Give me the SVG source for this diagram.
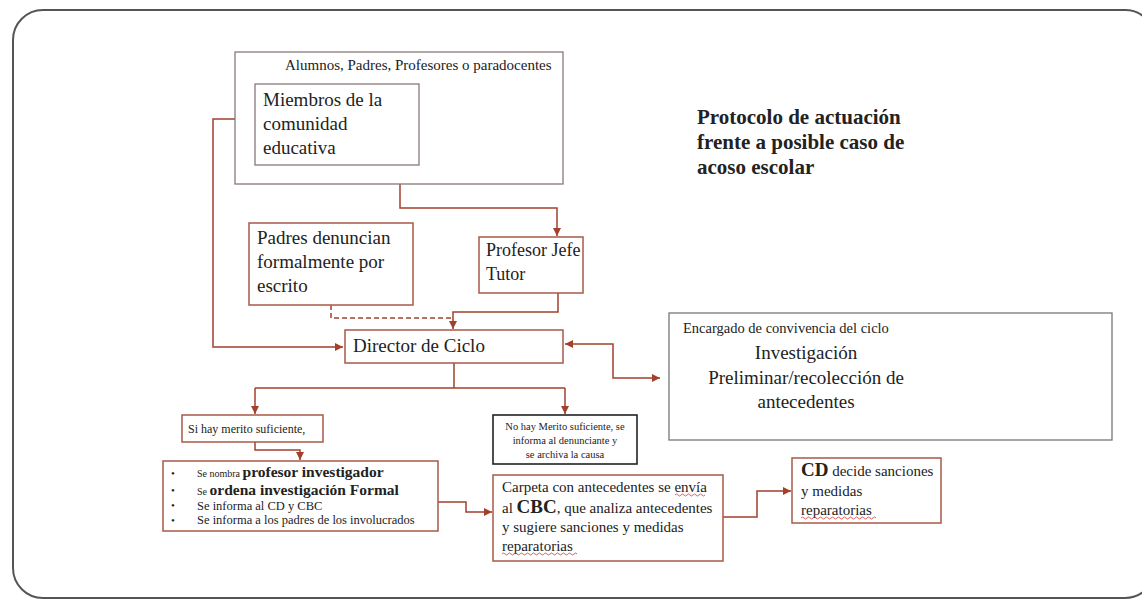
<svg xmlns="http://www.w3.org/2000/svg" width="1142" height="599" viewBox="0 0 1142 599">
<defs>
<style>
.t{font-family:"Liberation Serif","Times New Roman",serif;fill:#222}
.b{font-weight:bold}
.box{fill:#fff;stroke:#a85a47;stroke-width:1.5}
.gbox{fill:#fff;stroke:#8a7777;stroke-width:1.3}
.kbox{fill:#fff;stroke:#222;stroke-width:1.6}
.c{fill:none;stroke:#a3402c;stroke-width:1.5}
.dash{stroke-dasharray:5 3}
.wave{fill:none;stroke:#d23a3a;stroke-width:0.8}
</style>
<marker id="ah" viewBox="0 0 8 8" refX="8" refY="4" markerWidth="8" markerHeight="8" markerUnits="userSpaceOnUse" orient="auto-start-reverse">
<path d="M0,0 L8,4 L0,8 z" fill="#a3402c"/>
</marker>
</defs>
<rect x="0" y="0" width="1142" height="599" fill="#fff"/>
<rect x="13" y="10" width="1142" height="588" rx="30" fill="none" stroke="#555" stroke-width="2"/>

<g id="connectors">
<path class="c" d="M235,119 H213 V347 H343" marker-end="url(#ah)"/>
<path class="c" d="M400,184 V208 H557 V236" marker-end="url(#ah)"/>
<path class="c dash" d="M331,305 V318 H453"/>
<path class="c" d="M558,293 V312 H453 V329" marker-end="url(#ah)"/>
<path class="c" d="M565,344 H613 V378 H660" marker-start="url(#ah)" marker-end="url(#ah)"/>
<path class="c" d="M454,363 V388"/>
<path class="c" d="M255,388 V414" marker-end="url(#ah)"/>
<path class="c" d="M565,388 V414" marker-end="url(#ah)"/>
<path class="c" d="M255,388 H565"/>
<path class="c" d="M255,442 V450 H300 V460" marker-end="url(#ah)"/>
<path class="c" d="M438,502 H466 V512 H492" marker-end="url(#ah)"/>
<path class="c" d="M723,517 H757 V491 H791" marker-end="url(#ah)"/>
</g>

<g id="title">
<text class="t b" x="697" y="124" font-size="21">Protocolo de actuación</text>
<text class="t b" x="697" y="149" font-size="21">frente a posible caso de</text>
<text class="t b" x="697" y="174" font-size="21">acoso escolar</text>
</g>

<g id="n-alumnos">
<rect class="gbox" x="235" y="52" width="328" height="132"/>
<text class="t" x="285" y="70" font-size="15">Alumnos, Padres, Profesores o paradocentes</text>
</g>

<g id="n-miembros">
<rect class="gbox" x="255" y="84" width="164" height="81"/>
<text class="t" x="263" y="106" font-size="19">Miembros de la</text>
<text class="t" x="263" y="130" font-size="19">comunidad</text>
<text class="t" x="263" y="154" font-size="19">educativa</text>
</g>

<g id="n-padres">
<rect class="box" x="249" y="223" width="164" height="82"/>
<text class="t" x="257" y="244" font-size="19">Padres denuncian</text>
<text class="t" x="257" y="268" font-size="19">formalmente por</text>
<text class="t" x="257" y="292" font-size="19">escrito</text>
</g>

<g id="n-profesor">
<rect class="box" x="479" y="237" width="104" height="56"/>
<text class="t" x="486" y="256" font-size="18">Profesor Jefe</text>
<text class="t" x="486" y="280" font-size="18">Tutor</text>
</g>

<g id="n-director">
<rect class="box" x="345" y="330" width="218" height="33"/>
<text class="t" x="353" y="352" font-size="19">Director de Ciclo</text>
</g>

<g id="n-encargado">
<rect class="gbox" x="669" y="313" width="443" height="127" style="stroke:#777"/>
<text class="t" x="683" y="333" font-size="14.5">Encargado de convivencia del ciclo</text>
<text class="t" x="806" y="359" font-size="19" text-anchor="middle">Investigación</text>
<text class="t" x="806" y="384" font-size="19" text-anchor="middle">Preliminar/recolección de</text>
<text class="t" x="806" y="408" font-size="19" text-anchor="middle">antecedentes</text>
</g>

<g id="n-sihay">
<rect class="box" x="182" y="415" width="141" height="27"/>
<text class="t" x="188" y="433" font-size="12">Si hay merito suficiente,</text>
</g>

<g id="n-nohay">
<rect class="kbox" x="493" y="415" width="144" height="49"/>
<text class="t" x="565" y="430" font-size="10.5" text-anchor="middle">No hay Merito suficiente, se</text>
<text class="t" x="565" y="444" font-size="10.5" text-anchor="middle">informa al denunciante y</text>
<text class="t" x="565" y="458" font-size="10.5" text-anchor="middle">se archiva la causa</text>
</g>

<g id="n-lista">
<rect class="box" x="163" y="461" width="275" height="70"/>
<g class="t" font-size="11">
<text x="171" y="477">•</text>
<text x="171" y="494">•</text>
<text x="171" y="509">•</text>
<text x="171" y="524">•</text>
</g>
<text class="t" x="197" y="477" font-size="10">Se nombra <tspan class="b" font-size="15.5">profesor investigador</tspan></text>
<text class="t" x="197" y="494.5" font-size="10">Se <tspan class="b" font-size="15.5">ordena investigación Formal</tspan></text>
<text class="t" x="197" y="509.5" font-size="12.5">Se informa al CD y CBC</text>
<text class="t" x="197" y="524" font-size="12.5">Se informa a los padres de los involucrados</text>
</g>

<g id="n-carpeta">
<rect class="box" x="493" y="475" width="230" height="86"/>
<text class="t" x="502" y="492" font-size="15">Carpeta con antecedentes se envía</text>
<text class="t" x="502" y="513" font-size="15">al <tspan class="b" font-size="19">CBC</tspan>, que analiza antecedentes</text>
<text class="t" x="502" y="532" font-size="15">y sugiere sanciones y medidas</text>
<text class="t" x="502" y="551" font-size="15">reparatorias</text>
<path class="wave" d="M675,495 q1.5,-2 3,0 t3,0 t3,0 t3,0 t3,0 t3,0 t3,0 t3,0 t3,0 t3,0"/>
<path class="wave" d="M502,554 q1.5,-2 3,0 t3,0 t3,0 t3,0 t3,0 t3,0 t3,0 t3,0 t3,0 t3,0 t3,0 t3,0 t3,0 t3,0 t3,0 t3,0 t3,0 t3,0 t3,0 t3,0 t3,0 t3,0 t3,0 t3,0 t3,0"/>
</g>

<g id="n-cd">
<rect class="box" x="792" y="458" width="149" height="65"/>
<text class="t" x="801" y="476" font-size="15"><tspan class="b" font-size="19">CD</tspan> decide sanciones</text>
<text class="t" x="801" y="496" font-size="15">y medidas</text>
<text class="t" x="801" y="515" font-size="15">reparatorias</text>
<path class="wave" d="M801,518 q1.5,-2 3,0 t3,0 t3,0 t3,0 t3,0 t3,0 t3,0 t3,0 t3,0 t3,0 t3,0 t3,0 t3,0 t3,0 t3,0 t3,0 t3,0 t3,0 t3,0 t3,0 t3,0 t3,0 t3,0 t3,0 t3,0"/>
</g>
</svg>
